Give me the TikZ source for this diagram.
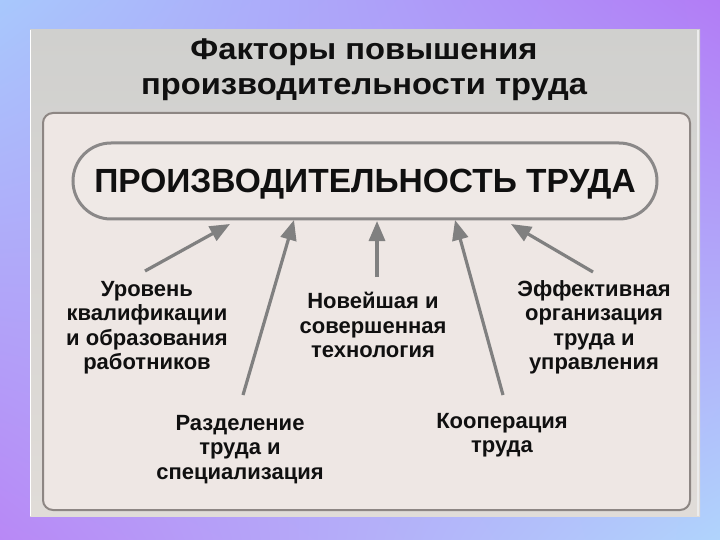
\documentclass[tikz,border=0pt]{standalone}
\usepackage{fontspec}
\setmainfont{Liberation Sans}
\newfontfamily\titlefont[FakeStretch=1.09]{Liberation Sans}
\usetikzlibrary{arrows.meta,shadings}
\definecolor{bgblue}{HTML}{A8C8FC}
\definecolor{bgpurple}{HTML}{B27CF6}
\definecolor{bgpurple2}{HTML}{B888F6}
\definecolor{bgblue2}{HTML}{B0D4FC}
\definecolor{phototop}{HTML}{D0D0CE}
\definecolor{photobot}{HTML}{E0DCD8}
\definecolor{panelfill}{HTML}{EEE7E4}
\definecolor{panelline}{HTML}{8D8683}
\definecolor{pillline}{HTML}{8A8888}
\definecolor{pillfill}{HTML}{EFE9E6}
\definecolor{arrowgray}{HTML}{808080}
\definecolor{ink}{HTML}{101010}
\begin{document}
\begin{tikzpicture}[x=1pt,y=-1pt,
  lbl/.style={font=\fontsize{22}{24.5}\selectfont\bfseries, align=center, text=ink, inner sep=0pt, anchor=north},
  arr/.style={draw=arrowgray, line width=3.2pt, -{Triangle[length=20pt,width=16pt]}}]
\useasboundingbox (0,0) rectangle (720,540);
% gradient frame
\shade[upper left=bgblue, upper right=bgpurple, lower left=bgpurple2, lower right=bgblue2] (0,0) rectangle (720,540);
% photo area
\shade[top color=phototop, bottom color=photobot] (30,30) rectangle (700,516);
\draw[white, line width=1pt] (30.5,30) -- (30.5,516);
\draw[white!85!gray, line width=1.5pt] (698,30) -- (698,516);
% panel
\draw[panelline, line width=2pt, fill=panelfill, rounded corners=10pt] (43,113) rectangle (690,510);
% title
\node[font=\titlefont\fontsize{30}{35}\selectfont\bfseries, align=center, text=ink, inner sep=0pt, anchor=north] (title) at (364,39) {Факторы повышения\\производительности труда};
% central pill
\node[draw=pillline, line width=3pt, fill=pillfill, rounded corners=38pt, minimum width=584pt, minimum height=76pt,
      font=\fontsize{33.5}{36}\selectfont\bfseries, text=ink, text height=24pt, text depth=0pt, inner sep=0pt] (pill) at (365,181) {ПРОИЗВОДИТЕЛЬНОСТЬ ТРУДА};
% labels
\node[lbl] (lab1) at (147,281) {Уровень\\квалификации\\и образования\\работников};
\node[lbl] (lab2) at (240,415) {Разделение\\труда и\\специализация};
\node[lbl] (lab3) at (373,292) {Новейшая и\\совершенная\\технология};
\node[lbl] (lab4) at (502,413) {Кооперация\\труда};
\node[lbl] (lab5) at (594,280) {Эффективная\\организация\\труда и\\управления};
% arrow tips on the pill
\coordinate (p1) at (230,224);
\coordinate (p2) at (294,220);
\coordinate (p3) at (377,221);
\coordinate (p4) at (455,220);
\coordinate (p5) at (511,224);
\draw[arr] ([shift={(-2,-10)}]lab1.north) -- (p1);
\draw[arr] ([shift={(3,-20)}]lab2.north) -- (p2);
\draw[arr] ([shift={(4,-15)}]lab3.north) -- (p3);
\draw[arr] ([shift={(1,-18)}]lab4.north) -- (p4);
\draw[arr] ([shift={(-1,-8)}]lab5.north) -- (p5);
\end{tikzpicture}
\end{document}
